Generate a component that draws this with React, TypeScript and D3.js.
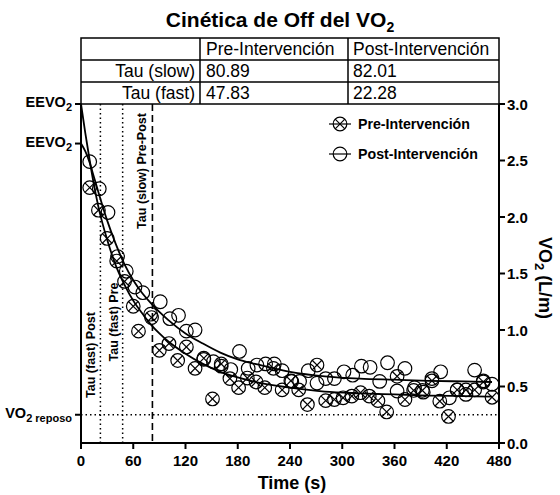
import React from "react";
import * as d3 from "d3";

const timeTicks = [0, 60, 120, 180, 240, 300, 360, 420, 480];
const vo2Ticks = [0, 0.5, 1.0, 1.5, 2.0, 2.5, 3.0];

const tableHeader = ["", "Pre-Intervención", "Post-Intervención"];
const tableRowLabels = ["Tau (slow)", "Tau (fast)"];
const tauPre = ["80.89", "47.83"];
const tauPost = ["82.01", "22.28"];

const tauFastPost = 22.28;
const tauFastPre = 47.83;
const tauSlow = 82.01;
const eevo2Levels = [3.0, 2.65];
const vo2Reposo = 0.25;

const preT = [10, 20, 30, 41, 50, 60, 66, 81, 90, 101, 111, 121, 131, 141, 151, 161, 171, 181, 191, 201, 211, 221, 231, 241, 250, 260, 271, 281, 291, 301, 311, 321, 331, 341, 351, 363, 372, 382, 392, 403, 412, 422, 432, 442, 452, 462, 472];
const preV = [2.26, 2.06, 1.81, 1.61, 1.43, 1.21, 0.99, 1.11, 0.82, 0.88, 0.73, 0.85, 0.66, 0.75, 0.39, 0.70, 0.57, 0.49, 0.575, 0.54, 0.49, 0.66, 0.47, 0.55, 0.47, 0.34, 0.69, 0.375, 0.385, 0.40, 0.415, 0.445, 0.415, 0.375, 0.275, 0.59, 0.385, 0.465, 0.465, 0.55, 0.37, 0.235, 0.47, 0.47, 0.47, 0.54, 0.405];

const postT = [10, 21, 31, 42, 52, 62, 71, 80, 91, 102, 112, 121, 131, 141, 152, 161, 172, 182, 192, 202, 212, 222, 231, 242, 251, 261, 271, 281, 291, 302, 312, 322, 332, 343, 352, 363, 372, 383, 393, 403, 413, 423, 432, 442, 452, 462, 472];
const postV = [2.49, 2.25, 2.04, 1.65, 1.52, 1.38, 1.33, 1.14, 1.25, 1.10, 1.13, 0.99, 1.00, 0.74, 0.72, 0.68, 0.65, 0.81, 0.66, 0.69, 0.70, 0.70, 0.64, 0.545, 0.545, 0.64, 0.53, 0.57, 0.57, 0.63, 0.60, 0.68, 0.67, 0.545, 0.71, 0.46, 0.66, 0.49, 0.45, 0.57, 0.63, 0.40, 0.47, 0.43, 0.645, 0.55, 0.52];

const preFitT = [0, 5, 10, 15, 20, 30, 40, 50, 60, 70, 80, 90, 100, 120, 140, 160, 180, 200, 240, 280, 320, 360, 400, 440, 472];
const preFitV = [3.0, 2.74, 2.5, 2.28, 2.09, 1.8, 1.57, 1.4, 1.26, 1.15, 1.05, 0.97, 0.9, 0.79, 0.7, 0.63, 0.58, 0.54, 0.49, 0.455, 0.44, 0.43, 0.42, 0.415, 0.41];
const postFitT = [0, 5, 10, 15, 20, 30, 40, 50, 60, 70, 80, 90, 100, 120, 140, 160, 180, 200, 240, 280, 320, 360, 400, 440, 472];
const postFitV = [2.65, 2.58, 2.48, 2.35, 2.22, 1.97, 1.76, 1.58, 1.44, 1.33, 1.24, 1.16, 1.09, 0.97, 0.88, 0.8, 0.74, 0.7, 0.63, 0.59, 0.57, 0.56, 0.55, 0.545, 0.54];

const FONT = "'Liberation Sans', Arial, sans-serif";

const x = d3.scaleLinear().domain([0, 480]).range([81, 499]);
const y = d3.scaleLinear().domain([0, 3]).range([443, 104]);

const R = 6.8;

function CrossCircle({ cx, cy }: { cx: number; cy: number }) {
  const d = R * 0.707;
  return (
    <g>
      <circle cx={cx} cy={cy} r={R} fill="none" stroke="#000" strokeWidth={1.2} />
      <line x1={cx - d} y1={cy - d} x2={cx + d} y2={cy + d} stroke="#000" strokeWidth={1.2} />
      <line x1={cx - d} y1={cy + d} x2={cx + d} y2={cy - d} stroke="#000" strokeWidth={1.2} />
    </g>
  );
}

function OpenCircle({ cx, cy }: { cx: number; cy: number }) {
  return <circle cx={cx} cy={cy} r={R} fill="none" stroke="#000" strokeWidth={1.2} />;
}

export default function App() {
  const line = d3
    .line<[number, number]>()
    .x((d) => x(d[0]))
    .y((d) => y(d[1]))
    .curve(d3.curveMonotoneX);
  const preFit = line(preFitT.map((t, i) => [t, preFitV[i]] as [number, number])) || "";
  const postFit = line(postFitT.map((t, i) => [t, postFitV[i]] as [number, number])) || "";

  const x0 = x(0);
  const x1 = x(480);
  const yTop = y(3);
  const yBot = y(0);

  const tTop = 38;
  const rowH = (yTop - tTop) / 3;
  const colX = [x0, 200, 348, x1];

  const rows = [tableHeader, [tableRowLabels[0], tauPre[0], tauPost[0]], [tableRowLabels[1], tauPre[1], tauPost[1]]];

  return (
    <svg
      width={560}
      height={495}
      style={{ position: "absolute", left: 0, top: 0, background: "#fff" }}
      fontFamily={FONT}
    >
      <rect x={0} y={0} width={560} height={495} fill="#fff" />
      <text x={280} y={27} textAnchor="middle" fontSize={21} fontWeight="bold">
        Cinética de Off del VO
        <tspan fontSize={14} dy={5}>2</tspan>
      </text>

      <g>
        <rect x={x0} y={tTop} width={x1 - x0} height={yTop - tTop} fill="none" stroke="#000" strokeWidth={1.5} />
        {[1, 2].map((i) => (
          <line key={i} x1={x0} x2={x1} y1={tTop + rowH * i} y2={tTop + rowH * i} stroke="#000" strokeWidth={1.5} />
        ))}
        {[1, 2].map((i) => (
          <line key={i} x1={colX[i]} x2={colX[i]} y1={tTop} y2={yTop} stroke="#000" strokeWidth={1.5} />
        ))}
        {rows.map((r, ri) => (
          <g key={ri}>
            {r[0] && (
              <text x={colX[1] - 5} y={tTop + rowH * ri + rowH / 2 + 6} textAnchor="end" fontSize={17.5}>
                {r[0]}
              </text>
            )}
            <text x={colX[1] + 6} y={tTop + rowH * ri + rowH / 2 + 6} fontSize={17.5}>
              {r[1]}
            </text>
            <text x={colX[2] + 5} y={tTop + rowH * ri + rowH / 2 + 6} fontSize={17.5}>
              {r[2]}
            </text>
          </g>
        ))}
      </g>

      <line x1={x(tauFastPost)} x2={x(tauFastPost)} y1={yTop} y2={yBot} stroke="#000" strokeWidth={1.5} strokeDasharray="1.5,3" />
      <line x1={x(tauFastPre)} x2={x(tauFastPre)} y1={yTop} y2={yBot} stroke="#000" strokeWidth={1.5} strokeDasharray="1.5,3" />
      <line x1={x(tauSlow)} x2={x(tauSlow)} y1={yTop} y2={yBot} stroke="#000" strokeWidth={1.6} strokeDasharray="7,4" />
      <line x1={x0} x2={x1} y1={y(vo2Reposo)} y2={y(vo2Reposo)} stroke="#000" strokeWidth={1.5} strokeDasharray="1.5,3" />

      <text
        transform={`translate(${x(tauFastPost) - 5},${355}) rotate(-90)`}
        textAnchor="middle"
        fontSize={12.5}
        fontWeight="bold"
      >
        Tau (fast) Post
      </text>
      <text
        transform={`translate(${x(tauFastPre) - 5},${322}) rotate(-90)`}
        textAnchor="middle"
        fontSize={12.5}
        fontWeight="bold"
      >
        Tau (fast) Pre
      </text>
      <text
        transform={`translate(${x(tauSlow) - 6},${171}) rotate(-90)`}
        textAnchor="middle"
        fontSize={12.5}
        fontWeight="bold"
      >
        Tau (slow) Pre-Post
      </text>

      <path d={preFit} fill="none" stroke="#000" strokeWidth={1.8} />
      <path d={postFit} fill="none" stroke="#000" strokeWidth={1.8} />

      {postT.map((t, i) => (
        <OpenCircle key={"o" + i} cx={x(t)} cy={y(postV[i])} />
      ))}
      {preT.map((t, i) => (
        <CrossCircle key={"x" + i} cx={x(t)} cy={y(preV[i])} />
      ))}

      <line x1={x0} x2={x0} y1={yTop} y2={yBot + 6} stroke="#000" strokeWidth={2} />
      <line x1={x1} x2={x1} y1={yTop} y2={yBot} stroke="#000" strokeWidth={2} />
      <line x1={x0} x2={x1 + 1} y1={yBot} y2={yBot} stroke="#000" strokeWidth={2} />

      {timeTicks.map((t) => (
        <g key={t}>
          <line x1={x(t)} x2={x(t)} y1={yBot} y2={yBot + 6} stroke="#000" strokeWidth={2} />
          <text x={x(t)} y={yBot + 23} textAnchor="middle" fontSize={15} fontWeight="bold">
            {t}
          </text>
        </g>
      ))}
      {vo2Ticks.map((v) => (
        <g key={v}>
          <line x1={x1} x2={x1 + 6} y1={y(v)} y2={y(v)} stroke="#000" strokeWidth={2} />
          <text x={x1 + 8} y={y(v) + 5.5} fontSize={15} fontWeight="bold">
            {v.toFixed(1)}
          </text>
        </g>
      ))}
      {eevo2Levels.map((v) => (
        <g key={v}>
          <line x1={x0 - 6} x2={x0} y1={y(v)} y2={y(v)} stroke="#000" strokeWidth={2} />
          <text x={x0 - 9} y={y(v) + 3} textAnchor="end" fontSize={14.5} fontWeight="bold">
            EEVO<tspan fontSize={11} dy={4}>2</tspan>
          </text>
        </g>
      ))}
      <line x1={x0 - 6} x2={x0} y1={y(vo2Reposo)} y2={y(vo2Reposo)} stroke="#000" strokeWidth={2} />
      <text x={x0 - 9} y={y(vo2Reposo) + 3} textAnchor="end" fontSize={14.5} fontWeight="bold">
        VO<tspan fontSize={11} dy={4}>2 reposo</tspan>
      </text>

      <text x={292} y={489} textAnchor="middle" fontSize={18} fontWeight="bold">
        Time (s)
      </text>
      <text transform={`translate(539,278) rotate(90)`} textAnchor="middle" fontSize={18} fontWeight="bold">
        VO<tspan fontSize={13} dy={4}>2</tspan>
        <tspan dy={-4}> (L/m)</tspan>
      </text>

      <g>
        <line x1={329} x2={351} y1={124} y2={124} stroke="#000" strokeWidth={1.2} />
        <CrossCircle cx={340} cy={124} />
        <text x={358} y={129} fontSize={14.2} fontWeight="bold">
          Pre-Intervención
        </text>
        <line x1={329} x2={351} y1={154} y2={154} stroke="#000" strokeWidth={1.2} />
        <OpenCircle cx={340} cy={154} />
        <text x={358} y={159} fontSize={14.2} fontWeight="bold">
          Post-Intervención
        </text>
      </g>
    </svg>
  );
}
